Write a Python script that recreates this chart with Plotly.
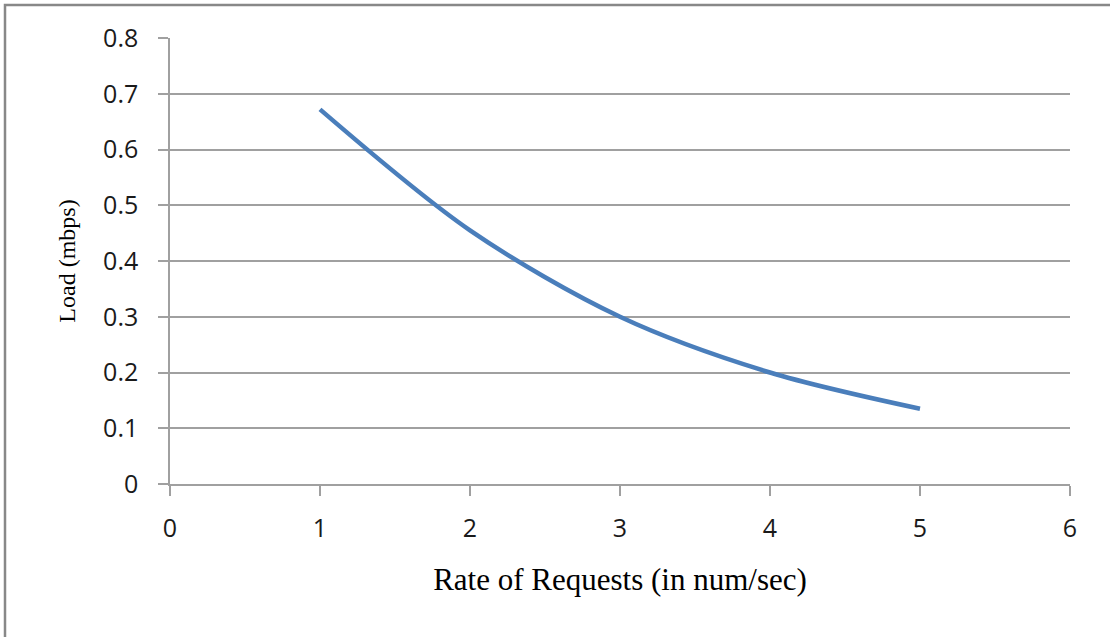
import plotly.graph_objects as go

rate = [1, 2, 3, 4, 5]
load = [0.672, 0.455, 0.30, 0.20, 0.135]
x_ticks = [0, 1, 2, 3, 4, 5, 6]
y_ticks = [0, 0.1, 0.2, 0.3, 0.4, 0.5, 0.6, 0.7, 0.8]

W, H = 1110, 637
L, R, T, B = 170, 40, 38, 153
pw, ph = W - L - R, H - T - B

fig = go.Figure()
fig.add_trace(go.Scatter(
    x=rate, y=load, mode="lines",
    line=dict(color="#4A7EBB", width=4.5, shape="spline", smoothing=0.9),
    showlegend=False, hoverinfo="skip",
))

tick_font = dict(family="Open Sans, Noto Sans, sans-serif", size=25, color="#1a1a1a")
xtitle_font = dict(family="Liberation Serif, Times New Roman, serif", size=31, color="#000000")
ytitle_font = dict(family="Liberation Serif, Times New Roman, serif", size=24, color="#000000")

fig.update_layout(
    width=W, height=H,
    margin=dict(l=L, r=R, t=T, b=B),
    paper_bgcolor="white", plot_bgcolor="white",
    xaxis=dict(
        range=[0, 6], tickvals=x_ticks, ticktext=[str(v) for v in x_ticks],
        showgrid=False, zeroline=False,
        showline=True, linecolor="#A0A0A0", linewidth=1.5,
        ticks="outside", ticklen=10, tickcolor="#A0A0A0", tickwidth=1.5,
        ticklabelstandoff=11,
        tickfont=tick_font,
        title=dict(text="Rate of Requests (in num/sec)", font=xtitle_font, standoff=26),
    ),
    yaxis=dict(
        range=[0, 0.8], tickvals=y_ticks, ticktext=["0" if v == 0 else f"{v:.1f}" for v in y_ticks],
        showgrid=True, gridcolor="#A0A0A0", gridwidth=1.5,
        zeroline=False,
        showline=True, linecolor="#A0A0A0", linewidth=1.5,
        ticks="outside", ticklen=10, tickcolor="#A0A0A0", tickwidth=1.5,
        ticklabelstandoff=15,
        tickfont=tick_font,
        title=dict(text="Load (mbps)", font=ytitle_font, standoff=21),
    ),
)

# outer chart border (left and top edges visible; right/bottom cropped)
fig.add_shape(
    type="rect", xref="paper", yref="paper",
    x0=(5 - L) / pw, x1=(W + 20 - L) / pw,
    y0=(T + ph - (H + 20)) / ph, y1=(T + ph - 5) / ph,
    line=dict(color="#888888", width=2.5), fillcolor="rgba(0,0,0,0)", layer="below",
)

fig.write_html("out.html")
